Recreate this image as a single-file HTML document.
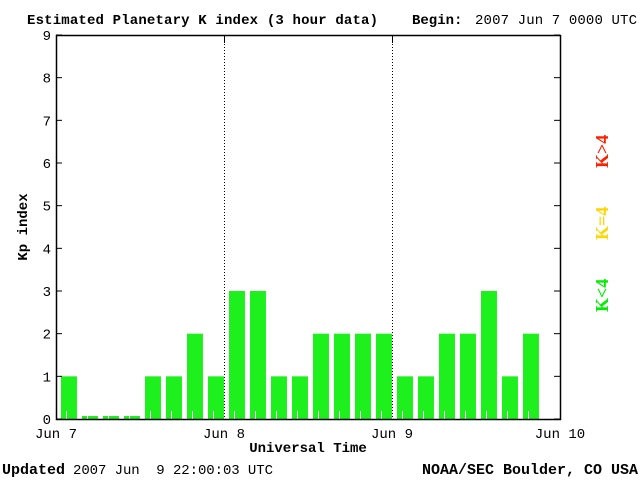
<!DOCTYPE html>
<html><head><meta charset="utf-8"><style>
body{margin:0;background:#fff;width:640px;height:480px;overflow:hidden}
svg{display:block}
.s{font-family:"Liberation Mono",monospace;font-size:14px}
.b{font-family:"Liberation Mono",monospace;font-weight:bold;font-size:14px}
</style></head><body>
<svg id="c" width="640" height="480">
<text class="b" x="27" y="24" textLength="351">Estimated Planetary K index (3 hour data)</text>
<text class="b" x="412" y="24">Begin:</text>
<text class="s" x="475" y="24" textLength="162">2007 Jun 7 0000 UTC</text>
<text class="b" x="0" y="0" transform="translate(27,227) rotate(-90)" text-anchor="middle">Kp index</text>
<text class="b" x="308" y="452" text-anchor="middle">Universal Time</text>
<text class="b" x="2" y="474" style="font-size:15px">Updated</text>
<text class="s" x="73" y="474" textLength="200" xml:space="preserve">2007 Jun  9 22:00:03 UTC</text>
<text class="b" x="638" y="474" text-anchor="end" style="font-size:15px">NOAA/SEC Boulder, CO USA</text>
<text class="b" x="0" y="0" transform="translate(608,312) rotate(-90)" fill="#00ee00" style="font-size:18px;font-family:'Liberation Serif',serif">K&lt;4</text>
<text class="b" x="0" y="0" transform="translate(608,240) rotate(-90)" fill="#ffd700" style="font-size:18px;font-family:'Liberation Serif',serif">K=4</text>
<text class="b" x="0" y="0" transform="translate(608,168) rotate(-90)" fill="#ff2000" style="font-size:18px;font-family:'Liberation Serif',serif">K&gt;4</text>
<g id="plot"></g>
</svg>
<script>
const kpValues=[1,0,0,0,1,1,2,1, 3,3,1,1,2,2,2,2, 1,1,2,2,3,1,2];
const yTicks=[0,1,2,3,4,5,6,7,8,9];
const dayLabels=["Jun 7","Jun 8","Jun 9","Jun 10"];
const L=56,R=560,T=35,B=419;
const xs=h=>L+(R-L)*h/72;
const ys=v=>B-(B-T)*v/9;
const NS="http://www.w3.org/2000/svg";
const g=document.getElementById('plot');
function mk(t,a){const e=document.createElementNS(NS,t);for(const k in a)e.setAttribute(k,a[k]);g.appendChild(e);return e;}
kpValues.forEach((v,i)=>{
 const x0=xs(i*3),x1=xs(i*3+3),w=(x1-x0)*0.76;
 const y=v===0?B-3:ys(v);
 const r=mk('rect',{x:x0+5,y:y,width:w,height:B-y,fill:'#1ef01e'});
 
 
});
for(let i=0;i<24;i++){const x=xs(i*3+1.5);mk('line',{x1:x,x2:x,y1:B-8,y2:B,stroke:'#fff','stroke-width':1});}
[1,2].forEach(d=>{const x=xs(d*24)+0.5;
 const l=mk('line',{x1:x,x2:x,y1:T,y2:B,stroke:'#000','stroke-dasharray':'1,2'});
 
 mk('line',{x1:x,x2:x,y1:T,y2:T+8,stroke:'#000'});});
const ax=mk('rect',{x:L+0.5,y:T+0.5,width:R-L,height:B-T,fill:'none',stroke:'#000','stroke-width':1.5});

yTicks.forEach(v=>{const y=ys(v);
 mk('line',{x1:L,x2:L+6,y1:y,y2:y,stroke:'#000'});
 mk('line',{x1:R-6,x2:R,y1:y,y2:y,stroke:'#000'});
 const t=mk('text',{x:L-5,y:y+5,'text-anchor':'end',class:'s'});t.textContent=v;
 });
dayLabels.forEach((s,d)=>{const t=mk('text',{x:xs(d*24),y:438,'text-anchor':'middle',class:'s'});t.textContent=s;
 });
</script>
</body></html>
